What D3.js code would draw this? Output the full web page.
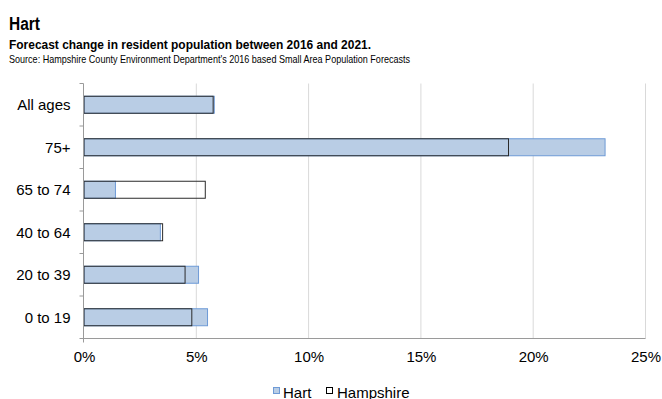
<!DOCTYPE html>
<html>
<head>
<meta charset="utf-8">
<script src="https://cdn.jsdelivr.net/npm/d3@7/dist/d3.min.js"></script>
<style>
  html, body { margin: 0; padding: 0; background: #fff; }
  svg { display: block; font-family: "Liberation Sans", Arial, sans-serif; }
</style>
</head>
<body>
<svg id="chart" width="662" height="399"></svg>
<script>
// Age groups, top to bottom
const categories = ["All ages", "75+", "65 to 74", "40 to 64", "20 to 39", "0 to 19"];
// Forecast % change 2016-2021
const hart      = [5.8, 23.2, 1.4, 3.4, 5.1, 5.5];
const hampshire = [5.75, 18.9, 5.4, 3.5, 4.5, 4.8];
const xTicks = [0, 5, 10, 15, 20, 25];
const seriesNames = ["Hart", "Hampshire"];

const svg = d3.select("#chart");

// Headings
svg.append("text").attr("x", 9).attr("y", 30)
  .attr("font-size", 18).attr("font-weight", "bold")
  .attr("textLength", 31).attr("lengthAdjust", "spacingAndGlyphs")
  .text("Hart");
svg.append("text").attr("x", 9).attr("y", 49)
  .attr("font-size", 13.5).attr("font-weight", "bold")
  .attr("textLength", 362).attr("lengthAdjust", "spacingAndGlyphs")
  .text("Forecast change in resident population between 2016 and 2021.");
svg.append("text").attr("x", 9).attr("y", 63.3)
  .attr("font-size", 10.8)
  .attr("textLength", 401).attr("lengthAdjust", "spacingAndGlyphs")
  .text("Source: Hampshire County Environment Department's 2016 based Small Area Population Forecasts");

const x = d3.scaleLinear().domain([0, 25]).range([84, 645.5]);
const y = d3.scaleBand().domain(categories).range([83.5, 338.5])
  .paddingInner(0.6).paddingOuter(0.3);

// Vertical gridlines
svg.append("g").selectAll("line").data(xTicks.slice(1)).join("line")
  .attr("x1", d => x(d)).attr("x2", d => x(d))
  .attr("y1", 83.5).attr("y2", 338.5)
  .attr("stroke", "#d9d9d9").attr("stroke-width", 1);

// Hart bars (filled)
svg.append("g").selectAll("rect").data(categories).join("rect")
  .attr("x", x(0)).attr("y", d => y(d))
  .attr("width", (d, i) => x(hart[i]) - x(0))
  .attr("height", y.bandwidth())
  .attr("fill", "#b9cde5").attr("stroke", "#6e9ad6").attr("stroke-width", 1);

// Hampshire bars (outline only, drawn over Hart)
svg.append("g").selectAll("rect").data(categories).join("rect")
  .attr("x", x(0)).attr("y", d => y(d))
  .attr("width", (d, i) => x(hampshire[i]) - x(0))
  .attr("height", y.bandwidth())
  .attr("fill", "none").attr("stroke", "#2b2b2b").attr("stroke-width", 1);

// X axis
const xAxis = svg.append("g").attr("transform", "translate(0,338.5)")
  .call(d3.axisBottom(x).tickValues(xTicks).tickFormat(d => d + "%").tickSize(0).tickPadding(13));
xAxis.select(".domain").attr("stroke", "#9a9a9a").attr("d", "M80,0H" + x(25));
xAxis.selectAll("text").attr("font-size", 15).attr("fill", "#000")
  .attr("font-family", "Liberation Sans, Arial, sans-serif");

// Y axis with ticks at band boundaries
const yAxisG = svg.append("g");
yAxisG.append("line").attr("x1", 83.5).attr("x2", 83.5).attr("y1", 83.5).attr("y2", 342.5)
  .attr("stroke", "#9a9a9a");
const boundaries = categories.map((c, i) => 83.5 + i * y.step());
boundaries.push(338.5);
yAxisG.selectAll("line.tick").data(boundaries).join("line").attr("class", "tick")
  .attr("x1", 79.5).attr("x2", 83.5).attr("y1", d => d).attr("y2", d => d)
  .attr("stroke", "#9a9a9a");
yAxisG.selectAll("text").data(categories).join("text")
  .attr("x", 70.5).attr("y", d => y(d) + y.bandwidth() / 2)
  .attr("dy", "0.36em").attr("text-anchor", "end")
  .attr("font-size", 15).text(d => d);

// Legend
const legend = svg.append("g");
const legendItems = [
  { name: seriesNames[0], x: 273, fill: "#b9cde5", stroke: "#6e9ad6", tx: 283 },
  { name: seriesNames[1], x: 326, fill: "#fff", stroke: "#000", tx: 337 }
];
legend.selectAll("rect").data(legendItems).join("rect")
  .attr("x", d => d.x + 0.5).attr("y", 387.5).attr("width", 6).attr("height", 6)
  .attr("fill", d => d.fill).attr("stroke", d => d.stroke);
legend.selectAll("text").data(legendItems).join("text")
  .attr("x", d => d.tx).attr("y", 397.5).attr("font-size", 15).text(d => d.name);
</script>
</body>
</html>
